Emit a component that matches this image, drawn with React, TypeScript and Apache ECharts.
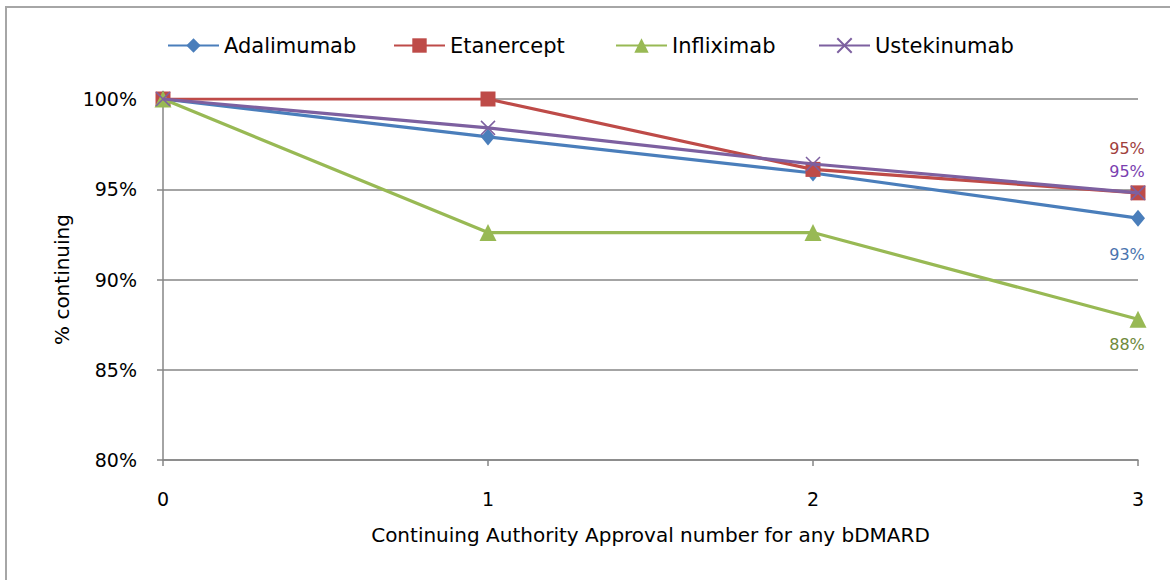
import React, { useEffect, useRef } from "react";
import * as echarts from "echarts";

const categories = ["0", "1", "2", "3"];
const seriesNames = ["Adalimumab", "Etanercept", "Infliximab", "Ustekinumab"];
const adalimumab = [100, 97.9, 95.9, 93.4];
const etanercept = [100, 100, 96.1, 94.8];
const infliximab = [100, 92.6, 92.6, 87.8];
const ustekinumab = [100, 98.4, 96.4, 94.8];
const yTicks = { min: 80, max: 100, interval: 5 };

const FONT = "DejaVu Sans";
const colors = ["#4A7EBB", "#BE4B48", "#98B954", "#7D60A0"];
const labelColors = ["#4A74AE", "#A0403D", "#6F8A3B", "#7B3FB0"];
const symbols = [
  "diamond",
  "rect",
  "triangle",
  "path://M0,0L10,10M10,0L0,10",
];
const symbolSizes: any[] = [[14, 17], 15, 17, 14];
const labelCfg = [
  { position: "bottom", offset: [-11, 15] },
  { position: "top", offset: [-11, -24] },
  { position: "bottom", offset: [-11, 4] },
  { position: "top", offset: [-11, -1] },
];
const legendLefts = [167, 393, 615, 818];

export default function App() {
  const ref = useRef<HTMLDivElement>(null);
  useEffect(() => {
    if (!ref.current) return;
    const chart = echarts.init(ref.current, null, { renderer: "svg" });
    const allData = [adalimumab, etanercept, infliximab, ustekinumab];
    const series = allData.map((vals, si) => ({
      name: seriesNames[si],
      type: "line",
      data: vals.map((v, i) =>
        i === vals.length - 1
          ? {
              value: v,
              label: {
                show: true,
                position: labelCfg[si].position,
                offset: labelCfg[si].offset,
                formatter: (p: any) => Math.round(p.value) + "%",
                color: labelColors[si],
                fontFamily: FONT,
                fontSize: 16,
              },
            }
          : v
      ),
      symbol: symbols[si],
      symbolSize: symbolSizes[si],
      showAllSymbol: true,
      lineStyle: { color: colors[si], width: 3.2 },
      itemStyle:
        si === 3
          ? { color: colors[si], borderColor: colors[si], borderWidth: 1.5 }
          : { color: colors[si], borderWidth: 0 },
      emphasis: { disabled: true },
      z: 2 + si,
    }));
    chart.setOption({
      animation: false,
      backgroundColor: "#ffffff",
      legend: seriesNames.map((n, i) => ({
        data: [n],
        left: legendLefts[i],
        top: 35,
        padding: 0,
        itemWidth: 51,
        itemHeight: 18,
        itemGap: 5,
        textStyle: { fontFamily: FONT, fontSize: 21, color: "#000" },
        selectedMode: false,
      })),
      grid: { left: 163, right: 32, top: 99, bottom: 120 },
      xAxis: {
        type: "category",
        data: categories,
        boundaryGap: false,
        name: "Continuing Authority Approval number for any bDMARD",
        nameLocation: "middle",
        nameGap: 65,
        nameTextStyle: { fontFamily: FONT, fontSize: 20, color: "#000" },
        axisLine: { lineStyle: { color: "#868686", width: 1.5 } },
        axisTick: { show: true, alignWithLabel: true, length: 6, lineStyle: { color: "#868686", width: 1.5 } },
        axisLabel: { fontFamily: FONT, fontSize: 19, color: "#000", margin: 29 },
        splitLine: { show: false },
      },
      yAxis: {
        type: "value",
        min: yTicks.min,
        max: yTicks.max,
        interval: yTicks.interval,
        name: "% continuing",
        nameLocation: "middle",
        nameGap: 90,
        nameRotate: 90,
        nameTextStyle: { fontFamily: FONT, fontSize: 20, color: "#000" },
        axisLine: { show: true, lineStyle: { color: "#868686", width: 1.5 } },
        axisTick: { show: true, length: 6, lineStyle: { color: "#868686", width: 1.5 } },
        axisLabel: {
          fontFamily: FONT,
          fontSize: 19,
          color: "#000",
          margin: 26,
          formatter: "{value}%",
        },
        splitLine: { show: true, lineStyle: { color: "#868686", width: 1.5 } },
      },
      graphic: [
        {
          type: "polyline",
          shape: { points: [[6, 580], [6, 7], [1170, 7]] },
          style: { stroke: "#a6a6a6", lineWidth: 2, fill: "none" },
          silent: true,
        },
      ],
      series,
    });
    return () => chart.dispose();
  }, []);
  return (
    <div
      ref={ref}
      style={{ position: "fixed", left: 0, top: 0, width: 1170, height: 580 }}
    />
  );
}
